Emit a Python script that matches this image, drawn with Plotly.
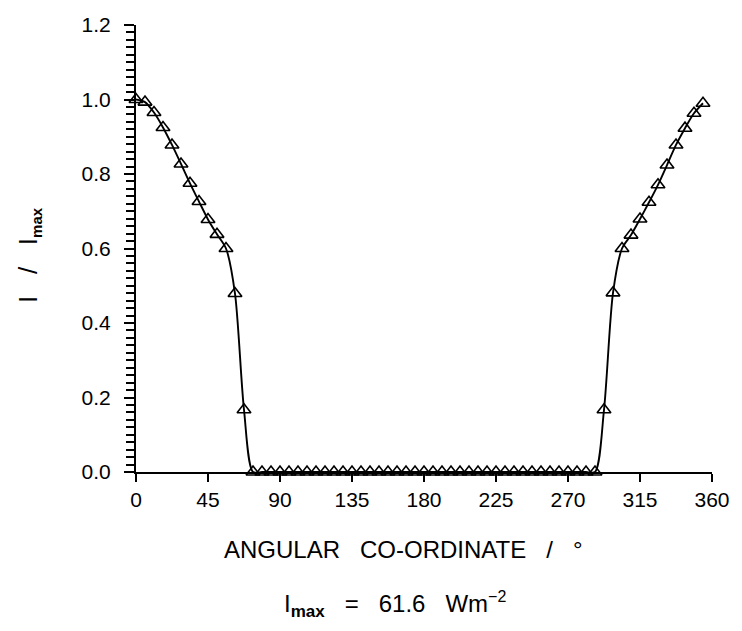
import plotly.graph_objects as go

# angular coordinate (degrees), 64 points at 5.625 deg spacing
angles = [i * 5.625 for i in range(64)]

left_part = [1.000, 0.993, 0.965, 0.925, 0.878, 0.827, 0.775, 0.726,
             0.678, 0.638, 0.600, 0.479, 0.167]
zeros_part = [0.0] * 39
right_part = [0.167, 0.481, 0.600, 0.636, 0.679, 0.724, 0.771,
              0.824, 0.878, 0.923, 0.963, 0.990]
intensity = left_part + zeros_part + right_part

x_ticks = [0, 45, 90, 135, 180, 225, 270, 315, 360]
y_ticks = [0.0, 0.2, 0.4, 0.6, 0.8, 1.0, 1.2]

FONT = "Liberation Sans, Arial, Helvetica, sans-serif"
NB = "\u00a0"
SP = NB * 3

fig = go.Figure()
fig.add_trace(go.Scatter(
    x=angles, y=intensity, mode="lines+markers",
    line=dict(color="black", width=1.9, shape="spline", smoothing=0.8),
    marker=dict(symbol="triangle-up-open", size=12,
                line=dict(color="black", width=1.6), color="black"),
    showlegend=False, cliponaxis=False,
))

fig.update_layout(
    width=742, height=631,
    margin=dict(l=136, r=25, t=25, b=159),
    paper_bgcolor="white", plot_bgcolor="white",
    font=dict(family=FONT, color="black", size=21),
    xaxis=dict(range=[0, 360], tickvals=x_ticks, ticks="outside", ticklen=8,
               tickwidth=2, tickcolor="black", showline=True, linewidth=2,
               linecolor="black", showgrid=False, zeroline=False,
               ticklabelstandoff=0, tickfont=dict(size=21)),
    yaxis=dict(range=[0, 1.2], tickvals=y_ticks, tickformat=".1f",
               ticks="outside", ticklen=10, tickwidth=2, tickcolor="black",
               showline=True, linewidth=2, linecolor="black",
               showgrid=False, zeroline=False, ticklabelstandoff=9,
               tickfont=dict(size=21),
               minor=dict(dtick=0.02, ticks="outside", ticklen=8,
                          tickwidth=1.5, tickcolor="black", showgrid=False)),
)

fig.add_annotation(
    text=f"ANGULAR{SP}CO-ORDINATE{SP}/{SP}°",
    xref="paper", yref="paper", x=(406 - 136) / 581, y=-(549 - 472) / 447,
    xanchor="center", yanchor="middle", showarrow=False,
    font=dict(family=FONT, size=24, color="black"),
)
fig.add_annotation(
    text=(f"I<sub><span style='font-size:17px'><b>max</b></span></sub>{SP}={SP}"
          f"61.6{SP}Wm<sup><span style='font-size:16px'>−2</span></sup>"),
    xref="paper", yref="paper", x=(397 - 136) / 581, y=-(604 - 472) / 447,
    xanchor="center", yanchor="middle", showarrow=False,
    font=dict(family=FONT, size=24, color="black"),
)
fig.add_annotation(
    text=f"I{SP}/{SP}I<sub><span style='font-size:15px'><b>max</b></span></sub>",
    xref="paper", yref="paper", x=-(136 - 28) / 581, y=(472 - 255) / 447,
    xanchor="center", yanchor="middle", showarrow=False, textangle=-90,
    font=dict(family=FONT, size=26, color="black"),
)

fig.write_html(
    "out.html",
    config={"displayModeBar": False},
    post_script="document.body.style.margin='0';document.body.style.overflow='hidden';",
)
